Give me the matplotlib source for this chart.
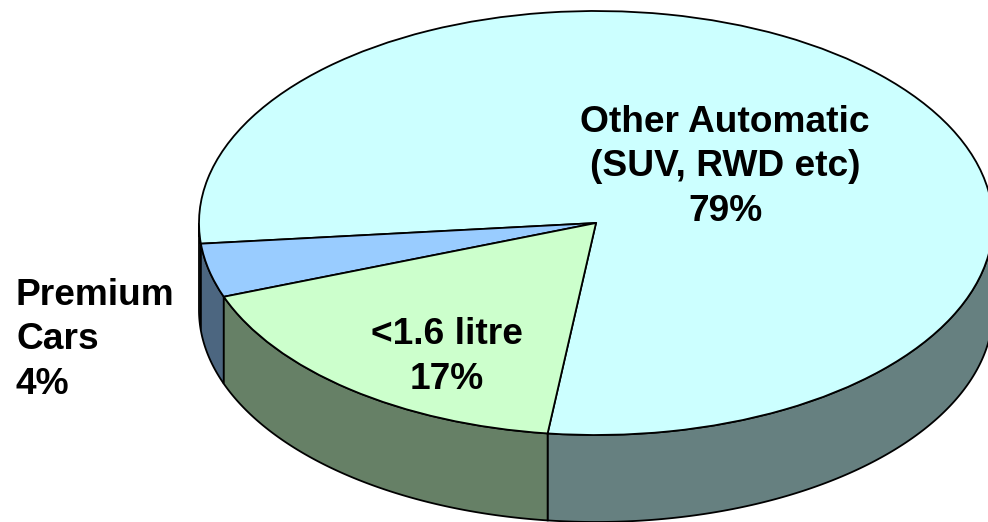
import matplotlib
matplotlib.use('Agg')
import matplotlib.pyplot as plt
import numpy as np

labels = ['Other Automatic\n(SUV, RWD etc)\n79%', 'Premium\nCars\n4%', '<1.6 litre\n17%']
# slice sizes as drawn, the labels round them
values = [78.5, 4.1, 17.4]
top_colors = ['#CCFFFF', '#99CCFF', '#CCFFCC']
side_colors = ['#668080', '#4C6680', '#668066']

# pie is a unit circle, the limits squash it to the ellipse
cx, cy = 596, 223
rx, ry = 397, 212
depth = 87 / ry
start = 263

plt.rcParams['font.family'] = ['Liberation Sans', 'DejaVu Sans']

fig = plt.figure(figsize=(9.88, 5.22), dpi=100)
ax = fig.add_axes([0, 0, 1, 1])

ax.pie(values, colors=top_colors, startangle=start, radius=1,
       wedgeprops={'edgecolor': 'k', 'linewidth': 1.3, 'zorder': 3})
ax.set_aspect('auto')
ax.set_xlim(-cx / rx, (988 - cx) / rx)
ax.set_ylim((cy - 522) / ry, cy / ry)

# side walls, only the front half of the disc shows
a0 = start
for v, c in zip(values, side_colors):
    a1 = a0 + v * 3.6
    for lo, hi in [(a0, a1), (a0 - 360, a1 - 360)]:
        lo2, hi2 = max(lo, 180), min(hi, 360)
        if hi2 <= lo2:
            continue
        t = np.radians(np.linspace(lo2, hi2, 200))
        x = np.cos(t)
        y = np.sin(t)
        ax.fill(np.r_[x, x[::-1]], np.r_[y, y[::-1] - depth], facecolor=c,
                edgecolor='k', linewidth=1.3, zorder=2, clip_on=False)
    a0 = a1


def px(x, y):
    return (x - cx) / rx, (cy - y) / ry


fs = 26.7
ls = 1.37
ax.text(*px(725, 167), labels[0], ha='center', va='center', fontsize=fs, fontweight='bold', linespacing=ls, zorder=5)
ax.text(*px(447, 357), labels[2], ha='center', va='center', fontsize=fs, fontweight='bold', linespacing=ls, zorder=5)
ax.text(*px(16, 340), labels[1], ha='left', va='center', fontsize=fs, fontweight='bold', linespacing=ls, zorder=5)

fig.savefig('out.png', dpi=100)
